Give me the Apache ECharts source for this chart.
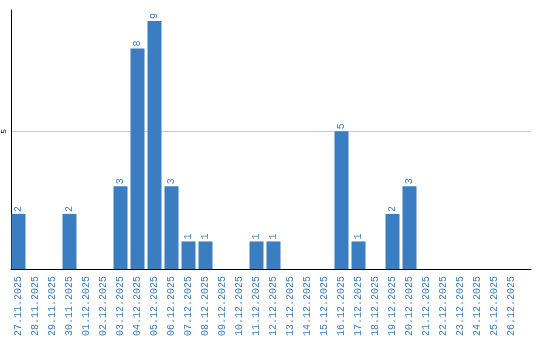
<!DOCTYPE html>
<html>
<head>
<meta charset="utf-8">
<script src="https://cdn.jsdelivr.net/npm/echarts@6/dist/echarts.min.js"></script>
<style>html,body{margin:0;padding:0;background:#fff}#c{width:540px;height:340px}</style>
</head>
<body>
<div id="c"></div>
<script>
const categories = ["27.11.2025","28.11.2025","29.11.2025","30.11.2025","01.12.2025","02.12.2025","03.12.2025","04.12.2025","05.12.2025","06.12.2025","07.12.2025","08.12.2025","09.12.2025","10.12.2025","11.12.2025","12.12.2025","13.12.2025","14.12.2025","15.12.2025","16.12.2025","17.12.2025","18.12.2025","19.12.2025","20.12.2025","21.12.2025","22.12.2025","23.12.2025","24.12.2025","25.12.2025","26.12.2025"];
const values = [2,0,0,2,0,0,3,8,9,3,1,1,0,0,1,1,0,0,0,5,1,0,2,3,0,0,0,0,0,0];
const yTickLabels = ["5"];

const BLUE = '#3a7dc1';
const FONT = '"Liberation Mono", "DejaVu Sans Mono", monospace';
const chart = echarts.init(document.getElementById('c'), null, {renderer:'canvas'});
chart.setOption({
  animation: false,
  backgroundColor: '#fff',
  grid: [
    {left: 10, right: 9, top: 10, bottom: 71},
    {left: 10, width: 510, top: 10, bottom: 71}
  ],
  xAxis: [
    {gridIndex: 0, type: 'value', min: 0, max: 1,
     axisLine: {show: true, lineStyle: {color: '#000', width: 1}},
     axisTick: {show: false}, axisLabel: {show: false}, splitLine: {show: false}},
    {gridIndex: 1, type: 'category', data: categories,
     axisLine: {show: false}, axisTick: {show: false},
     axisLabel: {interval: 0, rotate: 90, color: BLUE, fontSize: 10, fontFamily: FONT, margin: 7}}
  ],
  yAxis: [
    {gridIndex: 0, type: 'value', min: 0, max: 9.4, interval: 5,
     axisLine: {show: true, lineStyle: {color: '#000', width: 1}},
     axisTick: {show: false},
     axisLabel: {rotate: 90, fontSize: 8, color: '#000', fontFamily: FONT, margin: 3,
       formatter: v => yTickLabels.includes(String(v)) ? String(v) : ''},
     splitLine: {show: true, lineStyle: {color: ['rgba(0,0,0,0)', '#c8c8c8', 'rgba(0,0,0,0)'], width: 1}}},
    {gridIndex: 1, type: 'value', min: 0, max: 9.4, show: false, splitLine: {show: false}}
  ],
  series: [{
    type: 'bar', xAxisIndex: 1, yAxisIndex: 1, data: values, barWidth: 14,
    itemStyle: {color: BLUE},
    label: {show: true, position: 'top', rotate: 90, align: 'left', verticalAlign: 'middle',
      distance: 2, color: BLUE, fontSize: 10, fontFamily: FONT,
      formatter: p => p.value === 0 ? '' : String(p.value)}
  }]
});
</script>
</body>
</html>
